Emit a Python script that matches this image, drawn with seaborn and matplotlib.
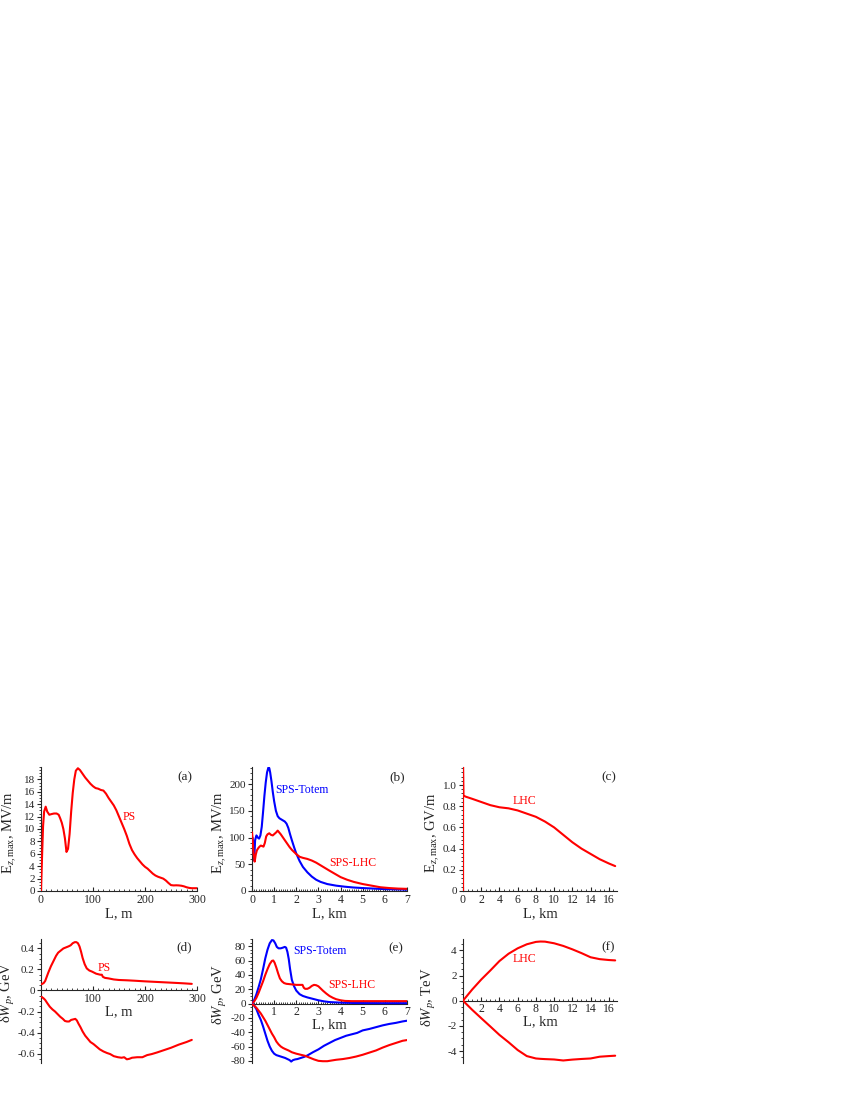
import numpy as np
import pandas as pd
import matplotlib
matplotlib.use('Agg')
import matplotlib.pyplot as plt
from matplotlib.ticker import AutoMinorLocator
import seaborn as sns

# ---- data ----
# (a) PS, Ez,max [MV/m] vs L [m]
L_ps = [0, 2, 4, 6, 9, 12, 16, 20, 25, 30, 34, 37, 40, 43, 46, 49, 52, 55, 58, 61,
        64, 67, 71, 75, 80, 85, 90, 95, 100, 105,
        110, 115, 120, 125, 130, 135, 140, 145, 150, 155, 160, 165, 170, 175, 180, 185,
        190, 195, 200, 205, 210, 215, 220, 225, 230, 235, 240, 245, 250, 255, 260, 265,
        270, 275, 280, 285, 290, 295, 300]
E_ps = [0, 5.5, 10.5, 12.8, 13.6, 12.8, 12.3, 12.4, 12.5, 12.5, 12.3, 11.7, 11.0, 10.0, 8.5, 6.3, 6.8, 9.2, 12.8, 15.8,
        18.0, 19.4, 19.8, 19.5, 18.9, 18.3, 17.8, 17.3, 16.9, 16.6,
        16.5, 16.3, 16.2, 15.7, 15.0, 14.4, 13.8, 13.0, 12.0, 11.0, 10.0, 8.9, 7.6, 6.6, 5.9, 5.3,
        4.8, 4.3, 3.9, 3.6, 3.2, 2.8, 2.5, 2.3, 2.15, 2.0, 1.7, 1.3, 0.95, 0.9, 0.92, 0.9,
        0.85, 0.75, 0.6, 0.5, 0.45, 0.45, 0.45]

# (b) SPS, Ez,max [MV/m] vs L [km]
L_tot = [0.02, 0.06, 0.1, 0.14, 0.2, 0.26, 0.32, 0.38, 0.44, 0.5, 0.56, 0.62, 0.68, 0.74, 0.78, 0.82,
         0.88, 0.94, 1.0, 1.08, 1.16, 1.24, 1.32, 1.4, 1.48, 1.56, 1.64, 1.72, 1.8, 1.9, 2.0, 2.15,
         2.3, 2.5, 2.7, 2.9, 3.1, 3.4, 3.8, 4.2, 4.6, 5.0, 5.5, 6.0, 6.5, 7.0]
E_tot = [100, 90, 57, 95, 104, 100, 98, 104, 120, 148, 178, 203, 222, 231, 230, 222,
         205, 185, 168, 150, 140, 136, 134, 132, 130, 126, 118, 106, 95, 82, 70, 56,
         45, 35, 27, 21, 17, 13, 10, 8, 6.5, 5.5, 4.5, 3.5, 3.0, 2.5]
L_sl = [0.0, 0.03, 0.07, 0.12, 0.17, 0.22, 0.28, 0.34, 0.4, 0.46, 0.52, 0.58, 0.64, 0.7, 0.78, 0.86,
        0.94, 1.02, 1.1, 1.16, 1.22, 1.3, 1.4, 1.5, 1.6, 1.7, 1.8, 1.9, 2.0, 2.15, 2.3, 2.5,
        2.7, 2.9, 3.1, 3.3, 3.5, 3.75, 4.0, 4.3, 4.6, 5.0, 5.4, 5.8, 6.2, 6.6, 7.0]
E_sl = [110, 95, 70, 55, 68, 76, 80, 83, 85, 84, 83, 90, 102, 106, 108, 105,
        104, 107, 110, 113, 110, 106, 100, 94, 88, 82, 77, 73, 69, 64, 62, 60,
        57, 53, 48, 43, 38, 32, 26, 21, 17, 13, 10, 7, 5.5, 4.5, 4]

# (c) LHC, Ez,max [GV/m] vs L [km]
L_lhc = [0, 0, 0.05, 0.3, 1, 2, 3, 4, 5, 6, 7, 8, 9, 10, 11, 12, 13, 14, 15, 16, 16.7]
E_lhc = [0, 1.2, 0.9, 0.89, 0.87, 0.84, 0.81, 0.79, 0.78, 0.76, 0.73, 0.70, 0.655, 0.60,
         0.53, 0.46, 0.40, 0.35, 0.30, 0.26, 0.235]

# (d) PS, dW_p [GeV]
L_d_up = [1, 5, 8, 11, 14, 19, 24, 29, 33, 38, 43, 48, 53, 57, 61, 65, 68, 71, 74, 77,
          80, 84, 88, 93, 98, 102, 106, 110, 114, 117, 119, 123, 130, 140, 150, 165, 180,
          200, 220, 240, 260, 275, 290]
W_d_up = [0.06, 0.07, 0.09, 0.13, 0.17, 0.23, 0.28, 0.33, 0.36, 0.38, 0.40, 0.41, 0.42, 0.43,
          0.45, 0.46, 0.46, 0.45, 0.42, 0.37, 0.31, 0.25, 0.21, 0.19, 0.18, 0.17, 0.16, 0.155,
          0.15, 0.15, 0.13, 0.12, 0.115, 0.105, 0.1, 0.097, 0.093, 0.087, 0.082, 0.077, 0.072,
          0.068, 0.063]
L_d_lo = [1, 5, 8, 12, 17, 22, 27, 32, 37, 42, 46, 50, 54, 58, 62, 66, 69, 72, 76, 80,
          85, 90, 95, 101, 107, 113, 120, 127, 133, 140, 148, 155, 160, 165, 170, 175, 185,
          195, 204, 213, 223, 235, 250, 265, 280, 290]
W_d_lo = [-0.06, -0.075, -0.09, -0.12, -0.155, -0.18, -0.2, -0.225, -0.25, -0.27, -0.29, -0.295,
          -0.295, -0.28, -0.275, -0.27, -0.285, -0.315, -0.35, -0.39, -0.43, -0.46, -0.49, -0.51,
          -0.535, -0.56, -0.58, -0.595, -0.605, -0.625, -0.635, -0.64, -0.635, -0.655, -0.65,
          -0.64, -0.635, -0.635, -0.615, -0.605, -0.59, -0.57, -0.545, -0.515, -0.49, -0.47]

# (e) SPS, dW_p [GeV]
L_e_tu = [0, 0.1, 0.2, 0.3, 0.4, 0.5, 0.6, 0.7, 0.8, 0.9, 0.97, 1.05, 1.12, 1.2, 1.3, 1.4,
          1.48, 1.54, 1.6, 1.66, 1.72, 1.8, 1.9, 2.0, 2.15, 2.3, 2.5, 2.75, 3.0, 3.25, 3.5,
          4.0, 4.5, 5.0, 6.0, 7.0]
W_e_tu = [0, 5, 13, 23, 34, 48, 63, 75, 84, 88.5, 88, 84, 79, 77, 77, 78,
          79, 78, 72, 62, 48, 33, 24, 18, 13, 10.5, 8.5, 6.5, 4.5, 3, 2,
          1.2, 0.8, 0.6, 0.5, 0.5]
L_e_lu = [0, 0.1, 0.2, 0.3, 0.4, 0.5, 0.6, 0.7, 0.8, 0.9, 0.96, 1.02, 1.1, 1.18, 1.26, 1.35,
          1.45, 1.55, 1.7, 1.85, 2.0, 2.15, 2.28, 2.34, 2.4, 2.5, 2.6, 2.7, 2.8, 2.9, 3.0,
          3.1, 3.2, 3.35, 3.5, 3.65, 3.8, 4.0, 4.2, 4.5, 5.0, 6.0, 7.0]
W_e_lu = [0, 3, 8, 15, 23, 31, 40, 48, 55, 59.5, 60, 57, 50, 42, 35, 31,
          28.5, 27.5, 27, 26.5, 26, 26, 26, 22, 20.5, 20.5, 22, 24.5, 26, 25.5, 24,
          21, 18, 14, 10.5, 8, 6, 4.5, 3.6, 3.3, 3.3, 3.3, 3.3]
L_e_tl = [0, 0.1, 0.2, 0.3, 0.4, 0.5, 0.6, 0.7, 0.8, 0.9, 1.0, 1.1, 1.2, 1.3, 1.4, 1.5,
          1.6, 1.7, 1.77, 1.85, 1.95, 2.05, 2.2, 2.35, 2.5, 2.75, 3.0, 3.25, 3.5, 3.75,
          4.0, 4.25, 4.5, 4.75, 5.0, 5.3, 5.6, 5.9, 6.2, 6.5, 6.8, 7.0]
W_e_tl = [0, -3, -8, -16, -23, -32, -42, -52, -60, -66, -70, -72, -73, -74, -75, -76,
          -77.5, -79, -81, -79, -78, -77.5, -76, -74.5, -72.5, -68, -64, -59, -55, -51,
          -48, -45, -43, -41, -37.5, -35.5, -33, -30.5, -28.5, -27, -25, -24]
L_e_ll = [0, 0.1, 0.2, 0.3, 0.4, 0.5, 0.6, 0.7, 0.8, 0.9, 1.0, 1.1, 1.2, 1.3, 1.4, 1.5,
          1.65, 1.8, 2.0, 2.2, 2.4, 2.6, 2.8, 3.0, 3.2, 3.4, 3.6, 3.8, 4.1, 4.4, 4.7,
          5.0, 5.3, 5.6, 5.9, 6.2, 6.5, 6.8, 7.0]
W_e_ll = [-1, -3, -6, -10, -14, -19, -24, -30, -36, -42, -47, -53, -57, -60, -62, -63.5,
          -65.5, -68, -70, -71.5, -73, -75.5, -78, -80, -80.5, -80.5, -79.5, -78.5, -77.5, -76, -74,
          -71.5, -68.5, -65.5, -61.5, -58, -55, -52, -51]

# (f) LHC, dW_p [TeV]
L_f = [0, 1, 2, 3, 4, 5, 6, 7, 8, 8.5, 9, 10, 11, 12, 13, 14, 15, 16, 16.7]
W_f_up = [0, 0.88, 1.68, 2.4, 3.15, 3.73, 4.16, 4.48, 4.67, 4.7, 4.69, 4.56, 4.35, 4.08,
          3.78, 3.45, 3.3, 3.23, 3.2]
W_f_lo = [0, -0.72, -1.39, -2.05, -2.72, -3.3, -3.92, -4.4, -4.59, -4.62, -4.64, -4.67,
          -4.75, -4.68, -4.63, -4.59, -4.45, -4.4, -4.37]

# tick values / labels
yt_a = [0, 2, 4, 6, 8, 10, 12, 14, 16, 18]
yt_b = [0, 50, 100, 150, 200]
yt_c = [0, 0.2, 0.4, 0.6, 0.8, 1.0]
yl_c = ['0', '0.2', '0.4', '0.6', '0.8', '1.0']
yt_d = [-0.6, -0.4, -0.2, 0, 0.2, 0.4]
yl_d = ['-0.6', '-0.4', '-0.2', '0', '0.2', '0.4']
yt_e = [-80, -60, -40, -20, 0, 20, 40, 60, 80]
yl_e = ['-80', '-60', '-40', '-20', '0', '20', '40', '60', '80']
yt_f = [-4, -2, 0, 2, 4]
yl_f = ['-4', '-2', '0', '2', '4']

RED = '#ff0000'
BLUE = '#0000ff'

sns.set_style('ticks')
plt.rcParams['font.family'] = ['Liberation Serif', 'DejaVu Serif']
plt.rcParams['mathtext.fontset'] = 'custom'
plt.rcParams['mathtext.rm'] = 'Liberation Serif'
plt.rcParams['mathtext.it'] = 'Liberation Serif:italic'
plt.rcParams['axes.linewidth'] = 0.8

fig = plt.figure(figsize=(8.52, 11.02), dpi=100)
W, H = 852.0, 1102.0
lefts = [41, 252, 463]
widths = [156, 155, 154]
tops = [891, 1063]   # pixel row of the axes bottom edge
h = 124


def make_ax(col, row):
    return fig.add_axes([lefts[col] / W, (H - tops[row]) / H, widths[col] / W, h / H])


def line(ax, x, y, c):
    sns.lineplot(x=x, y=y, ax=ax, color=c, lw=1.5, estimator=None, sort=False, zorder=3)


def style(ax, xminor, yminor, bottom_row=False):
    for s in ['top', 'right']:
        ax.spines[s].set_visible(False)
    if bottom_row:
        ax.spines['bottom'].set_position(('data', 0))
    ax.xaxis.set_minor_locator(AutoMinorLocator(xminor))
    ax.yaxis.set_minor_locator(AutoMinorLocator(yminor))
    ax.tick_params(axis='y', which='major', direction='out', length=3, width=0.8, labelsize=8, pad=1.5)
    ax.tick_params(axis='y', which='minor', direction='out', length=1.5, width=0.6)
    ax.tick_params(axis='x', which='major', direction='in', length=3, width=0.8, labelsize=8.5, pad=2)
    ax.tick_params(axis='x', which='minor', direction='in', length=1.5, width=0.6)


def ylab(ax, text, x, y=0.5, size=10.5):
    ax.set_ylabel(text, fontsize=size)
    ax.yaxis.set_label_coords(x, y)


ylab_top = r'E$_{z,\mathrm{max}}$, '
ylab_bot = r'δ$W_p$, '

# (a)
ax = make_ax(0, 0)
line(ax, L_ps, E_ps, RED)
ax.set_xlim(0, 300)
ax.set_ylim(0, 20)
ax.set_xticks([0, 100, 200, 300])
ax.set_yticks(yt_a)
style(ax, 10, 4)
ax.set_xlabel('L, m', fontsize=10.5, labelpad=1)
ylab(ax, ylab_top + 'MV/m', -0.14, 0.47)
ax.text(156, 11.9, 'PS', color=RED, fontsize=8.5, va='center')
ax.text(0.92, 0.92, '(a)', transform=ax.transAxes, fontsize=9.5, ha='center', va='center')

# (b)
ax = make_ax(1, 0)
line(ax, L_tot, E_tot, BLUE)
line(ax, L_sl, E_sl, RED)
ax.set_xlim(0, 7)
ax.set_ylim(0, 232)
ax.set_xticks(range(0, 8))
ax.set_yticks(yt_b)
style(ax, 10, 5)
ax.set_xlabel('L, km', fontsize=10.5, labelpad=1)
ylab(ax, ylab_top + 'MV/m', -0.15, 0.47)
ax.text(1.05, 189, 'SPS-Totem', color=BLUE, fontsize=8.5, va='center')
ax.text(3.5, 52, 'SPS-LHC', color=RED, fontsize=8.5, va='center')
ax.text(0.935, 0.92, '(b)', transform=ax.transAxes, fontsize=9.5, ha='center', va='center')

# (c)
ax = make_ax(2, 0)
line(ax, L_lhc, E_lhc, RED)
ax.set_xlim(0, 16.9)
ax.set_ylim(0, 1.17)
ax.set_xticks(range(0, 17, 2))
ax.set_yticks(yt_c, yl_c)
style(ax, 4, 5)
ax.set_xlabel('L, km', fontsize=10.5, labelpad=1)
ylab(ax, ylab_top + 'GV/m', -0.135, 0.47)
ax.text(5.4, 0.85, 'LHC', color=RED, fontsize=8.5, va='center')
ax.text(0.95, 0.92, '(c)', transform=ax.transAxes, fontsize=9.5, ha='center', va='center')

# (d)
ax = make_ax(0, 1)
line(ax, L_d_up, W_d_up, RED)
line(ax, L_d_lo, W_d_lo, RED)
ax.set_xlim(0, 300)
ax.set_ylim(-0.69, 0.49)
ax.set_xticks([100, 200, 300])
ax.set_yticks(yt_d, yl_d)
style(ax, 10, 4, bottom_row=True)
ax.set_xlabel('L, m', fontsize=10.5, labelpad=0)
ylab(ax, ylab_bot + 'GeV', -0.155, 0.57)
ax.text(108, 0.21, 'PS', color=RED, fontsize=8.5, va='center')
ax.text(0.92, 0.93, '(d)', transform=ax.transAxes, fontsize=9.5, ha='center', va='center')

# (e)
ax = make_ax(1, 1)
line(ax, L_e_tu, W_e_tu, BLUE)
line(ax, L_e_lu, W_e_lu, RED)
line(ax, L_e_tl, W_e_tl, BLUE)
line(ax, L_e_ll, W_e_ll, RED)
ax.set_xlim(0, 7)
ax.set_ylim(-83, 90)
ax.set_xticks(range(1, 8))
ax.set_yticks(yt_e, yl_e)
style(ax, 10, 4, bottom_row=True)
ax.set_xlabel('L, km', fontsize=10.5, labelpad=0)
ylab(ax, ylab_bot + 'GeV', -0.15, 0.55)
ax.text(1.88, 73, 'SPS-Totem', color=BLUE, fontsize=8.5, va='center')
ax.text(3.44, 26, 'SPS-LHC', color=RED, fontsize=8.5, va='center')
ax.text(0.93, 0.925, '(e)', transform=ax.transAxes, fontsize=9.5, ha='center', va='center')

# (f)
ax = make_ax(2, 1)
line(ax, L_f, W_f_up, RED)
line(ax, L_f, W_f_lo, RED)
ax.set_xlim(0, 16.9)
ax.set_ylim(-4.95, 4.9)
ax.set_xticks(range(2, 17, 2))
ax.set_yticks(yt_f, yl_f)
style(ax, 4, 4, bottom_row=True)
ax.set_xlabel('L, km', fontsize=10.5, labelpad=0)
ylab(ax, ylab_bot + 'TeV', -0.16, 0.53)
ax.text(5.4, 3.28, 'LHC', color=RED, fontsize=8.5, va='center')
ax.text(0.94, 0.93, '(f)', transform=ax.transAxes, fontsize=9.5, ha='center', va='center')

fig.savefig('out.png', dpi=100)
